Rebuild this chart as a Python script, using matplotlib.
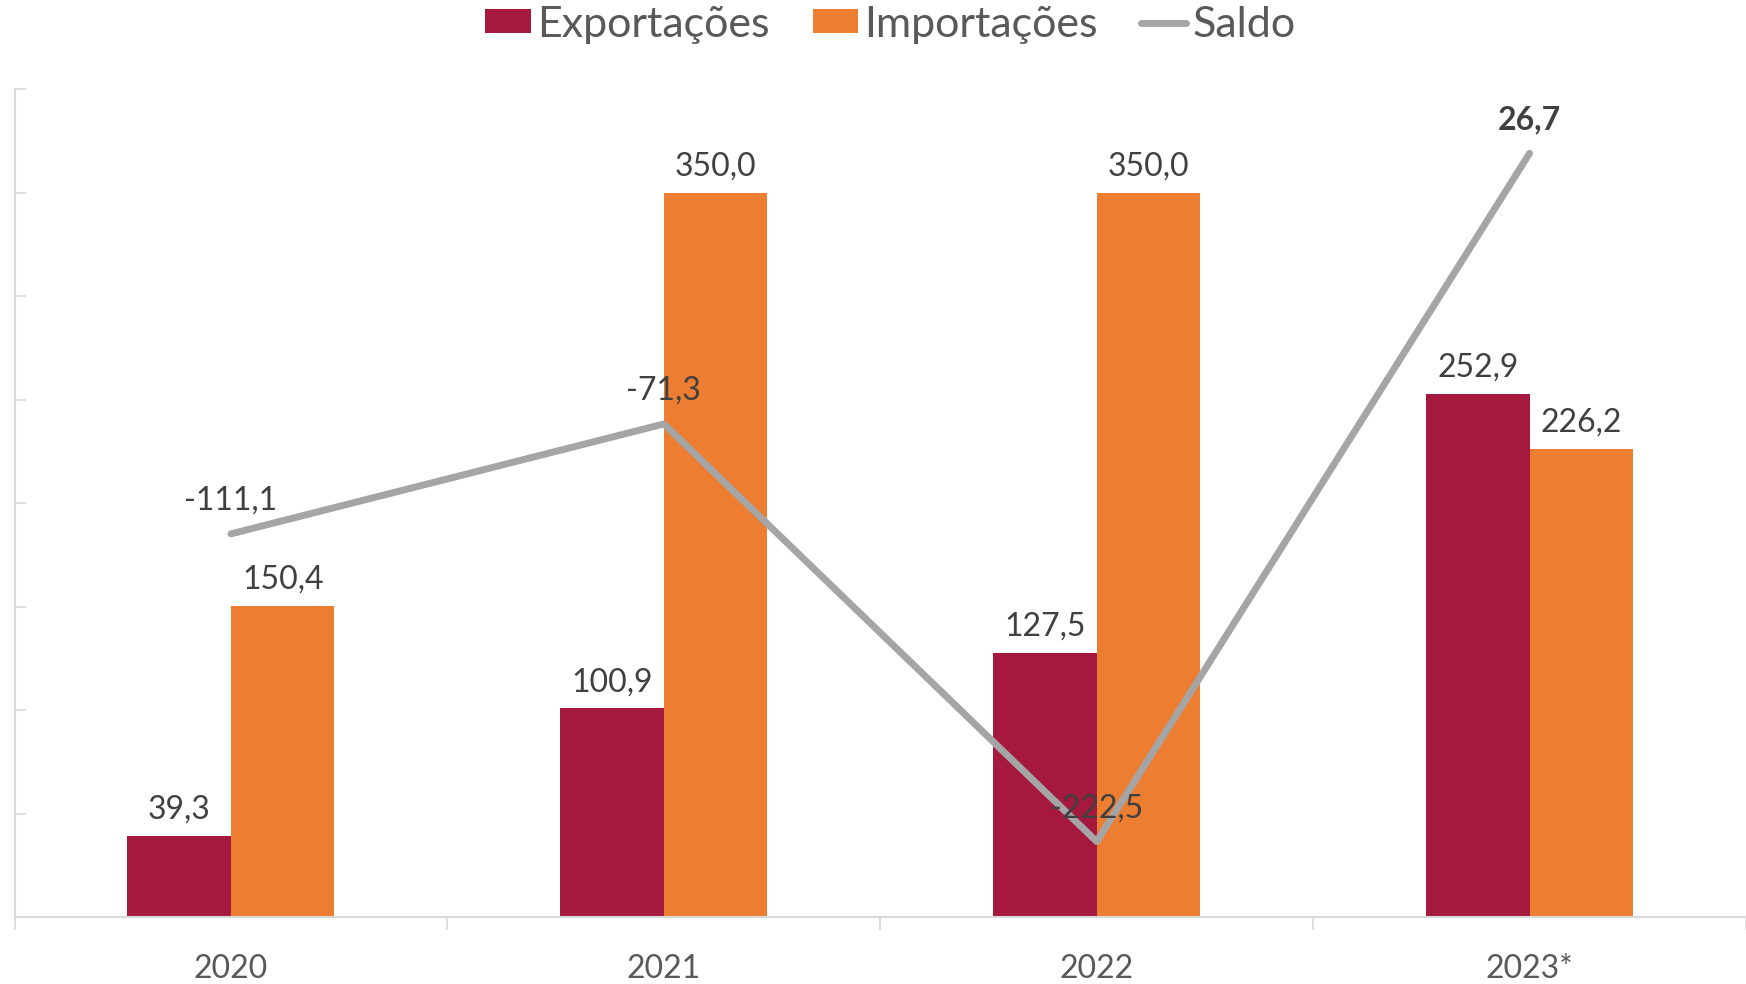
import matplotlib.pyplot as plt
import numpy as np

plt.rcParams['font.family'] = ['Lato', 'DejaVu Sans']

anos = ['2020', '2021', '2022', '2023*']
exportacoes = [39.3, 100.9, 127.5, 252.9]
importacoes = [150.4, 350.0, 350.0, 226.2]
saldo = [-111.1, -71.3, -222.5, 26.7]

cor_exp = '#A6193E'
cor_imp = '#ED7D31'
cor_saldo = '#A5A5A5'
cor_texto = '#404040'
cor_eixo = '#595959'
cor_linha = '#D9D9D9'


def fmt(v):
    return f'{v:.1f}'.replace('.', ',')


fig = plt.figure(figsize=(17.46, 9.84), dpi=100)
ax1 = fig.add_axes([14.5 / 1746, 0.0676, 1 - 14.5 / 1746, 0.842])
ax2 = ax1.twinx()

x = np.arange(len(anos))
w = 0.239

b1 = ax1.bar(x - w / 2, exportacoes, w, color=cor_exp, label='Exportações')
b2 = ax1.bar(x + w / 2, importacoes, w, color=cor_imp, label='Importações')
line, = ax2.plot(x, saldo, color=cor_saldo, lw=5, solid_capstyle='round',
                 solid_joinstyle='round', label='Saldo')

for xi, v in zip(x - w / 2, exportacoes):
    ax1.annotate(fmt(v), (xi, v), xytext=(0, 19), textcoords='offset points',
                 ha='center', va='center', fontsize=23, color=cor_texto)
for xi, v in zip(x + w / 2, importacoes):
    ax1.annotate(fmt(v), (xi, v), xytext=(0, 19), textcoords='offset points',
                 ha='center', va='center', fontsize=23, color=cor_texto)
for i, (xi, v) in enumerate(zip(x, saldo)):
    ax2.annotate(fmt(v), (xi, v), xytext=(0, 24), textcoords='offset points',
                 ha='center', va='center', fontsize=23, color=cor_texto,
                 fontweight='bold' if i == len(saldo) - 1 else 'normal')

ax1.set_ylim(0, 400)
ax2.set_ylim(-250, 50)
ax1.set_xlim(-0.5, 3.5)

ax1.set_yticks(np.arange(0, 401, 50))
ax1.tick_params(axis='y', direction='in', length=8, width=1.2,
                color=cor_linha, labelleft=False)
ax2.set_yticks([])

ax1.set_xticks(x)
ax1.set_xticklabels(anos)
ax1.set_xticks(np.arange(-0.5, 3.6, 1), minor=True)
ax1.tick_params(axis='x', which='major', length=0, pad=26,
                labelsize=23, labelcolor=cor_eixo)
ax1.tick_params(axis='x', which='minor', direction='out', length=9,
                width=1.2, color=cor_linha)

for ax in (ax1, ax2):
    for s in ('top', 'right'):
        ax.spines[s].set_visible(False)
    ax.spines['left'].set_color(cor_linha)
    ax.spines['bottom'].set_color(cor_linha)
    ax.spines['left'].set_linewidth(1.5)
    ax.spines['bottom'].set_linewidth(1.5)
ax2.spines['left'].set_visible(False)
ax2.spines['bottom'].set_visible(False)

leg = fig.legend([b1, b2, line], ['Exportações', 'Importações', 'Saldo'],
                 loc='center', bbox_to_anchor=(0.51, 0.975), ncol=3,
                 frameon=False, fontsize=31, handlelength=1.05,
                 handleheight=0.47, handletextpad=0.15, columnspacing=1.0,
                 labelcolor=cor_eixo)

fig.savefig('out.png', dpi=100)
